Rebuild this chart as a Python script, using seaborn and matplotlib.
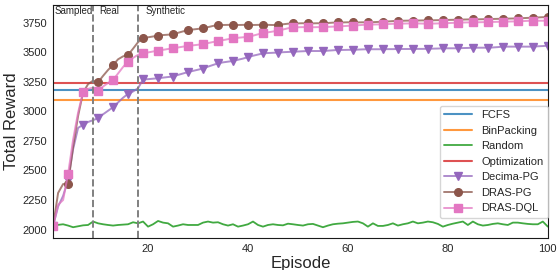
import numpy as np
import pandas as pd
import matplotlib
matplotlib.use("Agg")
import matplotlib.pyplot as plt
import seaborn as sns
from matplotlib.colors import to_rgba

episodes = list(range(1, 101))

fcfs = 3180
binpacking = 3100
optimization = 3243

random_policy = [
    2060, 2040, 2045, 2034, 2020, 2028, 2036, 2039, 2068, 2053,
    2045, 2039, 2034, 2039, 2042, 2045, 2062, 2053, 2068, 2025,
    2045, 2073, 2059, 2053, 2025, 2034, 2045, 2039, 2039, 2039,
    2059, 2068, 2059, 2062, 2045, 2034, 2045, 2025, 2034, 2045,
    2068, 2039, 2025, 2039, 2045, 2039, 2036, 2050, 2045, 2039,
    2034, 2045, 2048, 2034, 2020, 2034, 2045, 2050, 2053, 2059,
    2065, 2068, 2053, 2025, 2053, 2031, 2031, 2039, 2053, 2034,
    2045, 2053, 2068, 2053, 2059, 2068, 2062, 2048, 2025, 2039,
    2050, 2059, 2068, 2039, 2068, 2045, 2034, 2039, 2048, 2053,
    2045, 2039, 2059, 2059, 2053, 2048, 2045, 2045, 2068, 2025,
]

decima_pg = [
    2030, 2195, 2285, 2420, 2680, 2860, 2886, 2910, 2925, 2943,
    2975, 3005, 3035, 3075, 3115, 3148, 3168, 3195, 3270, 3272,
    3276, 3280, 3285, 3290, 3294, 3308, 3320, 3332, 3342, 3352,
    3362, 3378, 3392, 3406, 3414, 3420, 3426, 3436, 3446, 3458,
    3470, 3480, 3490, 3493, 3495, 3497, 3500, 3502, 3504, 3506,
    3508, 3510, 3510, 3510, 3510, 3513, 3516, 3519, 3519, 3520,
    3520, 3522, 3524, 3525, 3525, 3525, 3525, 3526, 3526, 3527,
    3527, 3527, 3527, 3528, 3528, 3529, 3530, 3531, 3533, 3533,
    3533, 3533, 3535, 3536, 3538, 3538, 3538, 3538, 3540, 3543,
    3547, 3547, 3547, 3547, 3547, 3547, 3547, 3550, 3552, 3555,
]

dras_pg = [
    2030, 2310, 2385, 2386, 2700, 2960, 3160, 3230, 3260, 3246,
    3300, 3350, 3392, 3440, 3465, 3477, 3530, 3585, 3618, 3626,
    3633, 3640, 3645, 3648, 3651, 3664, 3676, 3686, 3692, 3697,
    3702, 3712, 3722, 3730, 3730, 3731, 3730, 3730, 3731, 3730,
    3730, 3731, 3730, 3731, 3730, 3730, 3736, 3741, 3744, 3744,
    3745, 3744, 3744, 3745, 3744, 3747, 3750, 3752, 3752, 3753,
    3752, 3752, 3753, 3752, 3754, 3756, 3758, 3760, 3763, 3766,
    3766, 3767, 3768, 3768, 3769, 3770, 3770, 3771, 3772, 3773,
    3774, 3775, 3776, 3777, 3778, 3778, 3779, 3780, 3781, 3782,
    3783, 3784, 3785, 3786, 3788, 3790, 3792, 3794, 3796, 3798,
]

dras_dql = [
    2030, 2210, 2250, 2470, 2760, 2990, 3162, 3190, 3200, 3173,
    3210, 3240, 3266, 3320, 3375, 3420, 3452, 3478, 3491, 3498,
    3506, 3513, 3520, 3527, 3533, 3540, 3547, 3553, 3558, 3563,
    3568, 3577, 3586, 3594, 3602, 3610, 3617, 3622, 3626, 3630,
    3640, 3651, 3662, 3668, 3675, 3682, 3692, 3702, 3711, 3711,
    3712, 3711, 3711, 3712, 3711, 3714, 3716, 3718, 3720, 3723,
    3725, 3728, 3731, 3733, 3734, 3735, 3736, 3738, 3740, 3741,
    3742, 3743, 3744, 3743, 3742, 3741, 3742, 3743, 3744, 3746,
    3748, 3750, 3751, 3752, 3752, 3753, 3754, 3755, 3756, 3757,
    3758, 3759, 3760, 3761, 3763, 3765, 3766, 3766, 3766, 3766,
]

phase_bounds = [9, 18]
phase_labels = ["Sampled", "Real", "Synthetic"]
phase_x = [1.3, 10.2, 19.5]

sns.set_style("white")
plt.rcParams['font.family'] = ['Liberation Sans', 'DejaVu Sans']

pal = sns.color_palette("tab10")

fig = plt.figure(figsize=(5.59, 2.70), dpi=100)
ax = fig.add_axes([0.095, 0.119, 0.885, 0.862])

ax.axhline(fcfs, color=pal[0], alpha=0.8, lw=1.5, label="FCFS")
ax.axhline(binpacking, color=pal[1], alpha=0.8, lw=1.5, label="BinPacking")
sns.lineplot(x=episodes, y=random_policy, ax=ax, color=pal[2], alpha=0.9,
             lw=1.3, label="Random")
ax.axhline(optimization, color=pal[3], alpha=0.8, lw=1.5, label="Optimization")

rl = [("Decima-PG", decima_pg, "v", pal[4]),
      ("DRAS-PG", dras_pg, "o", pal[5]),
      ("DRAS-DQL", dras_dql, "s", pal[6])]
for name, vals, mk, c in rl:
    ax.plot(episodes, vals, color=to_rgba(c, 0.75), lw=1.4, marker=mk,
            markersize=5.5, markevery=3, markerfacecolor=c,
            markeredgecolor=c, label=name)

for b in phase_bounds:
    ax.axvline(b, color="gray", ls="--", lw=1.4)
for t, xp in zip(phase_labels, phase_x):
    ax.text(xp, 3850, t, fontsize=7, va="center", ha="left")

ax.set_xlim(1, 100)
ax.set_ylim(1930, 3898)
ax.set_xticks([20, 40, 60, 80, 100])
ax.set_yticks(np.arange(2000, 3751, 250))
ax.tick_params(labelsize=8, pad=1)
ax.set_xlabel("Episode", fontsize=12, labelpad=1)
ax.set_ylabel("Total Reward", fontsize=12, labelpad=2)
for s in ax.spines.values():
    s.set_color("0.1")

ax.legend(loc="lower right", bbox_to_anchor=(1.0, 0.086), fontsize=8,
          borderaxespad=0, handlelength=2.5, frameon=True)

fig.savefig("out.png", dpi=100)
